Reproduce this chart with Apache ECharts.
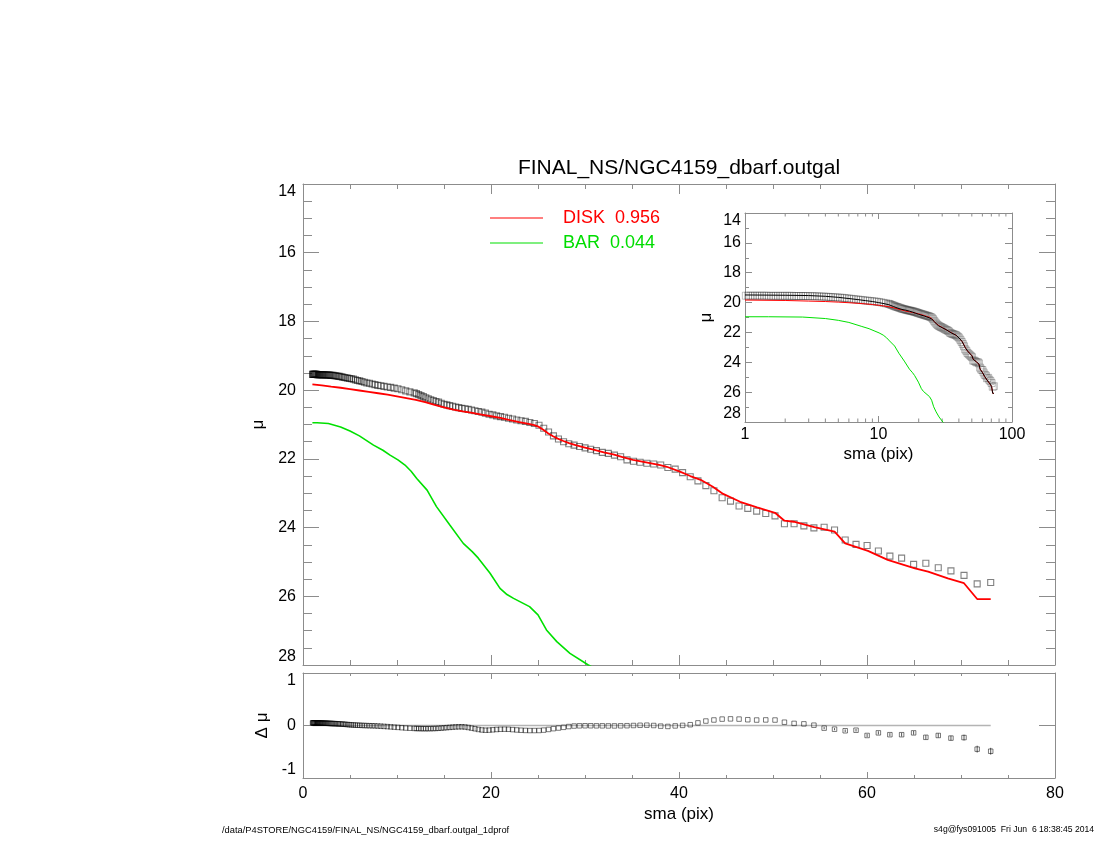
<!DOCTYPE html>
<html>
<head>
<meta charset="UTF-8">
<title>NGC4159 dbarf 1d profile</title>
<script type="text/javascript" src="https://cdn.jsdelivr.net/npm/echarts@6/dist/echarts.min.js"></script>
<style>
  *{margin:0;padding:0}
  html,body{width:100%;height:100%;background:#fff}
  #main{width:1100px;height:850px}
</style>
</head>
<body>
<div id="main"></div>
<script type="text/javascript">
// semi-major axis of the isophotes (pix)
var sma = [
  1.015,1.056,1.099,1.143,1.189,1.237,1.287,1.339,1.393,1.450,
  1.508,1.569,1.633,1.699,1.767,1.839,1.913,1.990,2.071,2.154,
  2.241,2.332,2.426,2.524,2.626,2.732,2.842,2.957,3.077,3.201,
  3.330,3.465,3.605,3.751,3.902,4.060,4.224,4.395,4.572,4.757,
  4.949,5.149,5.357,5.574,5.799,6.033,6.277,6.530,6.794,7.068,
  7.354,7.651,7.960,8.282,8.617,8.965,9.327,9.704,10.096,10.504,
  10.929,11.370,
  11.830,12.066,12.307,12.554,12.804,13.061,13.322,13.588,13.860,14.137,
  14.420,14.708,15.002,15.302,15.609,15.921,16.240,16.565,16.896,17.234,
  17.579,17.930,18.290,18.654,19.027,19.408,19.797,20.192,20.597,21.008,
  21.429,21.858,22.294,22.739,23.195,23.659,24.131,24.614,25.107,25.608,
  26.122,26.643,27.176,27.720,28.274,28.840,29.416,30.005,30.605,31.218,
  31.842,32.480,33.130,33.792,34.467,35.158,35.859,36.579,37.309,38.054,
  38.816,39.594,40.384,41.194,42.016,42.858,43.715,44.589,45.478,46.390,
  47.318,48.262,49.229,50.214,51.216,52.243,53.286,54.352,55.440,56.547,
  57.680,58.832,60.010,61.210,62.435,63.683,64.96,66.26,67.58,68.93,
  70.32,71.72,73.16
];
// observed surface brightness (squares)
var muObs = [
  19.54,19.54,19.54,19.54,19.54,19.54,19.54,19.54,19.54,19.54,
  19.55,19.55,19.55,19.55,19.55,19.55,19.55,19.55,19.55,19.55,
  19.55,19.56,19.56,19.56,19.56,19.56,19.56,19.57,19.57,19.57,
  19.58,19.58,19.59,19.60,19.60,19.61,19.62,19.63,19.64,19.65,
  19.66,19.67,19.68,19.70,19.72,19.73,19.75,19.77,19.79,19.80,
  19.82,19.84,19.86,19.87,19.89,19.91,19.92,19.94,19.96,19.99,
  20.02,20.05,
  20.08,20.10,20.13,20.16,20.19,20.22,20.25,20.28,20.30,20.33,
  20.35,20.38,20.41,20.43,20.45,20.47,20.49,20.51,20.53,20.54,
  20.56,20.58,20.60,20.62,20.64,20.67,20.70,20.72,20.75,20.77,
  20.79,20.82,20.84,20.87,20.89,20.91,20.94,20.97,21.02,21.11,
  21.22,21.33,21.42,21.50,21.56,21.60,21.64,21.68,21.72,21.76,
  21.81,21.84,21.89,21.94,22.03,22.07,22.10,22.13,22.15,22.18,
  22.25,22.30,22.40,22.52,22.64,22.78,22.93,23.13,23.23,23.37,
  23.44,23.52,23.59,23.66,23.89,23.89,23.95,24.01,23.99,24.07,
  24.36,24.49,24.52,24.68,24.83,24.89,25.07,25.04,25.17,25.26,
  25.39,25.64,25.60
];
// residual obs - model
var dMu = [
  0.050,0.050,0.050,0.050,0.050,0.050,0.049,0.049,0.049,0.049,
  0.048,0.048,0.048,0.048,0.047,0.047,0.047,0.046,0.046,0.045,
  0.045,0.044,0.044,0.043,0.042,0.041,0.040,0.039,0.038,0.037,
  0.036,0.035,0.033,0.032,0.030,0.028,0.026,0.024,0.021,0.018,
  0.015,0.012,0.010,0.008,0.006,0.004,0.002,0.000,-0.002,-0.004,
  -0.005,-0.007,-0.010,-0.013,-0.017,-0.021,-0.026,-0.031,-0.036,-0.042,
  -0.048,-0.052,
  -0.055,-0.057,-0.058,-0.059,-0.060,-0.060,-0.060,-0.059,-0.058,-0.056,
  -0.053,-0.049,-0.045,-0.040,-0.036,-0.031,-0.027,-0.025,-0.024,-0.028,
  -0.038,-0.050,-0.062,-0.075,-0.085,-0.090,-0.088,-0.082,-0.076,-0.072,
  -0.070,-0.072,-0.078,-0.085,-0.090,-0.094,-0.096,-0.096,-0.095,-0.088,
  -0.075,-0.060,-0.048,-0.035,-0.020,-0.010,-0.006,-0.005,-0.005,-0.006,
  -0.006,-0.008,-0.008,-0.006,-0.004,0.000,0.004,0.006,0.000,-0.012,
  -0.018,-0.008,0.002,0.015,0.050,0.085,0.105,0.122,0.126,0.122,
  0.110,0.104,0.106,0.104,0.063,0.040,0.031,0.006,-0.050,-0.070,
  -0.100,-0.090,-0.190,-0.140,-0.175,-0.175,-0.140,-0.225,-0.190,-0.240,
  -0.230,-0.450,-0.490
];
// error of the residual, outermost 15 isophotes
var dMuErr = [0.02,0.02,0.025,0.025,0.03,0.03,0.03,0.035,0.035,0.04,0.04,0.045,0.055,0.065,0.065];

// DISK component
var diskSma = [1.0,2.0,3.0,4.0,5.0,6.0,7.0,8.0,9.0,10.0,11.0,12.0,13.0,14.0,15.0,16.0,17.0,18.0,19.0,20.0,
  21.0,22.0,23.0,24.0,24.6,25.1,25.6,26.1,26.6,27.1,27.7,28.3,29.0,30.0,31.0,32.0,33.0,34.0,35.1,36.5,
  38.0,38.7,40.1,41.2,42.3,43.6,44.7,46.5,48.3,50.21,51.22,52.2,54.4,56.55,57.68,60.1,62.2,65.1,66.5,68.6,
  70.32,71.72,73.16];
var diskMu = [19.83,19.86,19.90,19.93,19.97,20.01,20.05,20.09,20.13,20.18,20.23,20.28,20.35,20.43,20.50,20.57,20.62,20.66,20.71,20.76,
  20.81,20.87,20.93,20.98,21.02,21.07,21.16,21.26,21.34,21.41,21.48,21.54,21.60,21.67,21.74,21.81,21.87,21.95,22.03,22.10,
  22.18,22.23,22.37,22.50,22.61,22.81,23.02,23.25,23.41,23.57,23.80,23.83,23.99,24.12,24.46,24.68,24.94,25.19,25.28,25.48,
  25.62,26.08,26.08];
// BAR component
var barSma = [1.0,1.5,2.7,4.0,5.0,6.0,7.5,8.5,9.26,10.1,10.85,11.5,12.1,13.2,14.2,15.6,17.05,18.0,18.65,19.9,
  20.96,21.7,22.4,24.1,25.0,25.9,27.0,28.4,30.35,31.2];
var barMu = [20.95,20.95,20.97,21.07,21.19,21.33,21.60,21.75,21.89,22.03,22.18,22.36,22.57,22.91,23.39,23.92,24.46,24.70,24.89,25.33,
  25.77,25.95,26.06,26.30,26.54,26.98,27.32,27.66,28.00,28.12];
// total model (inset, black)
var totSma = [1.0,2.0,3.0,4.0,5.0,6.0,7.0,8.0,9.0,10.0,11.0,12.0,13.0,14.0,15.0,16.0,17.0,18.0,19.0,20.0,
  22.0,24.0,25.1,26.1,27.2,28.3,30.0,32.0,35.1,38.0,40.1,42.3,44.7,46.5,48.3,50.21,51.22,54.4,56.55,57.68,
  60.0,62.4,65.0,68.9,70.32,71.72,73.16];
var totMu = [19.49,19.51,19.53,19.58,19.65,19.73,19.80,19.87,19.93,20.00,20.07,20.15,20.27,20.38,20.46,20.51,20.57,20.64,20.72,20.79,
  20.90,21.02,21.11,21.26,21.44,21.57,21.68,21.81,22.03,22.18,22.37,22.61,23.02,23.25,23.41,23.57,23.80,23.99,24.12,24.46,
  24.68,24.95,25.19,25.47,25.62,26.08,26.08];
// minor ticks of the log axis
var logMinor = [2,3,4,5,6,7,8,9,20,30,40,50,60,70,80,90];

var font = 'Liberation Sans, Arial, Helvetica, sans-serif';
var gray = '#8c8c8c';
var red = '#ff0000';
var green = '#00e000';

function pairs(xs, ys) {
  return xs.map(function (x, i) { return [x, ys[i]]; });
}

var errOff = sma.length - dMuErr.length;
var errData = dMuErr.map(function (e, i) { return [sma[errOff + i], dMu[errOff + i], e]; });

// axis frame shared by all panels
function frame(o) {
  var a = {
    axisLine: { show: true, onZero: false, lineStyle: { color: gray, width: 1 } },
    splitLine: { show: false },
    axisLabel: { show: false },
    axisTick: { show: true, inside: true, length: 10, lineStyle: { color: gray } },
    minorTick: { show: false, lineStyle: { color: gray } }
  };
  for (var k in o) { a[k] = o[k]; }
  return a;
}
function ticks(len) { return { show: true, inside: true, length: len, lineStyle: { color: gray } }; }
function minor(n, len) { return { show: true, splitNumber: n, length: len, lineStyle: { color: gray } }; }
function lbl(m) { return { show: true, margin: m, fontSize: 16, color: '#000', fontFamily: font }; }
// y labels: end labels pulled inside the frame as IDL does
function ylbl(m, minAlign, maxAlign) {
  var l = lbl(m);
  l.verticalAlignMinLabel = minAlign;
  l.verticalAlignMaxLabel = maxAlign;
  return l;
}
var nameStyle = { fontSize: 17, color: '#000', fontFamily: font };

var option = {
  animation: false,
  backgroundColor: '#fff',
  grid: [
    { left: 303, top: 184, width: 752, height: 481, outerBoundsMode: 'none' },
    { left: 303, top: 673, width: 752, height: 105, outerBoundsMode: 'none' },
    { left: 745, top: 213, width: 267, height: 209, outerBoundsMode: 'none' }
  ],
  xAxis: [
    frame({ type: 'value', gridIndex: 0, position: 'bottom', min: 0, max: 80, interval: 20, axisTick: ticks(10), minorTick: minor(4, 5) }),
    frame({ type: 'value', gridIndex: 0, position: 'top', min: 0, max: 80, interval: 20, axisTick: ticks(10), minorTick: minor(4, 5) }),
    frame({ type: 'value', gridIndex: 1, position: 'bottom', min: 0, max: 80, interval: 20, axisTick: ticks(6), minorTick: minor(4, 3),
      axisLabel: lbl(8), name: 'sma (pix)', nameLocation: 'middle', nameGap: 28, nameTextStyle: nameStyle }),
    frame({ type: 'value', gridIndex: 1, position: 'top', min: 0, max: 80, interval: 20, axisTick: ticks(6), minorTick: minor(4, 3) }),
    frame({ type: 'log', logBase: 10, gridIndex: 2, position: 'bottom', min: 1, max: 100, axisTick: ticks(6),
      axisLabel: lbl(5), name: 'sma (pix)', nameLocation: 'middle', nameGap: 24, nameTextStyle: nameStyle }),
    frame({ type: 'log', logBase: 10, gridIndex: 2, position: 'top', min: 1, max: 100, axisTick: ticks(6) })
  ],
  yAxis: [
    frame({ type: 'value', gridIndex: 0, position: 'left', min: 14, max: 28, interval: 2, inverse: true, axisTick: ticks(16), minorTick: minor(4, 9),
      axisLabel: ylbl(7, 'top', 'bottom'), name: 'μ', nameLocation: 'middle', nameRotate: 90, nameGap: 32, nameTextStyle: nameStyle }),
    frame({ type: 'value', gridIndex: 0, position: 'right', min: 14, max: 28, interval: 2, inverse: true, axisTick: ticks(16), minorTick: minor(4, 9) }),
    frame({ type: 'value', gridIndex: 1, position: 'left', min: -1, max: 1, interval: 1, axisTick: ticks(16),
      axisLabel: ylbl(7, 'bottom', 'top'), name: 'Δ μ', nameLocation: 'middle', nameRotate: 90, nameGap: 30, nameTextStyle: nameStyle }),
    frame({ type: 'value', gridIndex: 1, position: 'right', min: -1, max: 1, interval: 1, axisTick: ticks(16) }),
    frame({ type: 'value', gridIndex: 2, position: 'left', min: 14, max: 28, interval: 2, inverse: true, axisTick: ticks(7), minorTick: minor(2, 4),
      axisLabel: ylbl(4, 'top', 'bottom'), name: 'μ', nameLocation: 'middle', nameRotate: 90, nameGap: 30, nameTextStyle: nameStyle }),
    frame({ type: 'value', gridIndex: 2, position: 'right', min: 14, max: 28, interval: 2, inverse: true, axisTick: ticks(7), minorTick: minor(2, 4) })
  ],
  legend: {
    data: [
      { name: 'DISK  0.956', textStyle: { color: red } },
      { name: 'BAR  0.044', textStyle: { color: '#00dd00' } }
    ],
    orient: 'vertical', left: 490, top: 209, padding: 0,
    icon: 'rect', itemWidth: 53, itemHeight: 1, itemGap: 7, selectedMode: false,
    textStyle: { fontSize: 18, fontFamily: font, padding: [0, 0, 0, 15] }
  },
  graphic: [
    { type: 'text', x: 679, y: 168, style: { text: 'FINAL_NS/NGC4159_dbarf.outgal', fontSize: 21, fontFamily: font, fill: '#000', textAlign: 'center', textVerticalAlign: 'middle' } },
    { type: 'text', x: 222, y: 830, style: { text: '/data/P4STORE/NGC4159/FINAL_NS/NGC4159_dbarf.outgal_1dprof', fontSize: 9.3, fontFamily: font, fill: '#000', textVerticalAlign: 'middle' } },
    { type: 'text', x: 1094, y: 830, style: { text: 's4g@fys091005  Fri Jun  6 18:38:45 2014', fontSize: 8.6, fontFamily: font, fill: '#000', textAlign: 'right', textVerticalAlign: 'middle' } }
  ],
  series: [
    // main panel
    { type: 'scatter', xAxisIndex: 0, yAxisIndex: 0, data: pairs(sma, muObs), symbol: 'rect', symbolSize: 6, silent: true,
      itemStyle: { color: 'rgba(0,0,0,0)', borderColor: 'rgba(0,0,0,0.62)', borderWidth: 1.1 } },
    { name: 'DISK  0.956', type: 'line', xAxisIndex: 0, yAxisIndex: 0, data: pairs(diskSma, diskMu), symbol: 'none', color: red,
      lineStyle: { color: red, width: 1.8 }, silent: true },
    { name: 'BAR  0.044', type: 'line', xAxisIndex: 0, yAxisIndex: 0, data: pairs(barSma, barMu), symbol: 'none', color: green,
      lineStyle: { color: green, width: 1.6 }, silent: true },
    // residual panel
    { type: 'line', xAxisIndex: 2, yAxisIndex: 2, data: [[sma[0], 0], [sma[sma.length - 1], 0]], symbol: 'none',
      lineStyle: { color: '#b4b4b4', width: 1.5 }, silent: true, z: 1 },
    { type: 'scatter', xAxisIndex: 2, yAxisIndex: 2, data: pairs(sma, dMu), symbol: 'rect', symbolSize: 4.5, silent: true,
      itemStyle: { color: 'rgba(0,0,0,0)', borderColor: 'rgba(0,0,0,0.65)', borderWidth: 1 } },
    { type: 'custom', xAxisIndex: 2, yAxisIndex: 2, data: errData, silent: true,
      renderItem: function (params, api) {
        var x = api.value(0), y = api.value(1), e = api.value(2);
        var p1 = api.coord([x, y - e]), p2 = api.coord([x, y + e]);
        return { type: 'line', shape: { x1: p1[0], y1: p1[1], x2: p2[0], y2: p2[1] }, style: { stroke: '#555', lineWidth: 1 } };
      } },
    // inset
    { type: 'scatter', xAxisIndex: 4, yAxisIndex: 4, data: pairs(sma, muObs), symbol: 'rect', symbolSize: 7, silent: true,
      itemStyle: { color: 'rgba(0,0,0,0)', borderColor: 'rgba(0,0,0,0.3)', borderWidth: 1 } },
    { type: 'line', xAxisIndex: 4, yAxisIndex: 4, data: pairs(diskSma, diskMu), symbol: 'none', lineStyle: { color: red, width: 1 }, silent: true },
    { type: 'line', xAxisIndex: 4, yAxisIndex: 4, data: pairs(barSma, barMu), symbol: 'none', lineStyle: { color: green, width: 1 }, silent: true },
    { type: 'line', xAxisIndex: 4, yAxisIndex: 4, data: pairs(totSma, totMu), symbol: 'none', lineStyle: { color: '#000', width: 1 }, silent: true },
    { type: 'custom', xAxisIndex: 4, yAxisIndex: 4, data: logMinor.map(function (v) { return [v, 28]; }), silent: true,
      renderItem: function (params, api) {
        var v = api.value(0);
        var b = api.coord([v, 28]), t = api.coord([v, 14]);
        var st = { stroke: gray, lineWidth: 1 };
        return { type: 'group', children: [
          { type: 'line', shape: { x1: b[0], y1: b[1], x2: b[0], y2: b[1] - 3.5 }, style: st },
          { type: 'line', shape: { x1: t[0], y1: t[1], x2: t[0], y2: t[1] + 3.5 }, style: st }
        ] };
      } }
  ]
};

var myChart = echarts.init(document.getElementById('main'));
myChart.setOption(option);
</script>
</body>
</html>
